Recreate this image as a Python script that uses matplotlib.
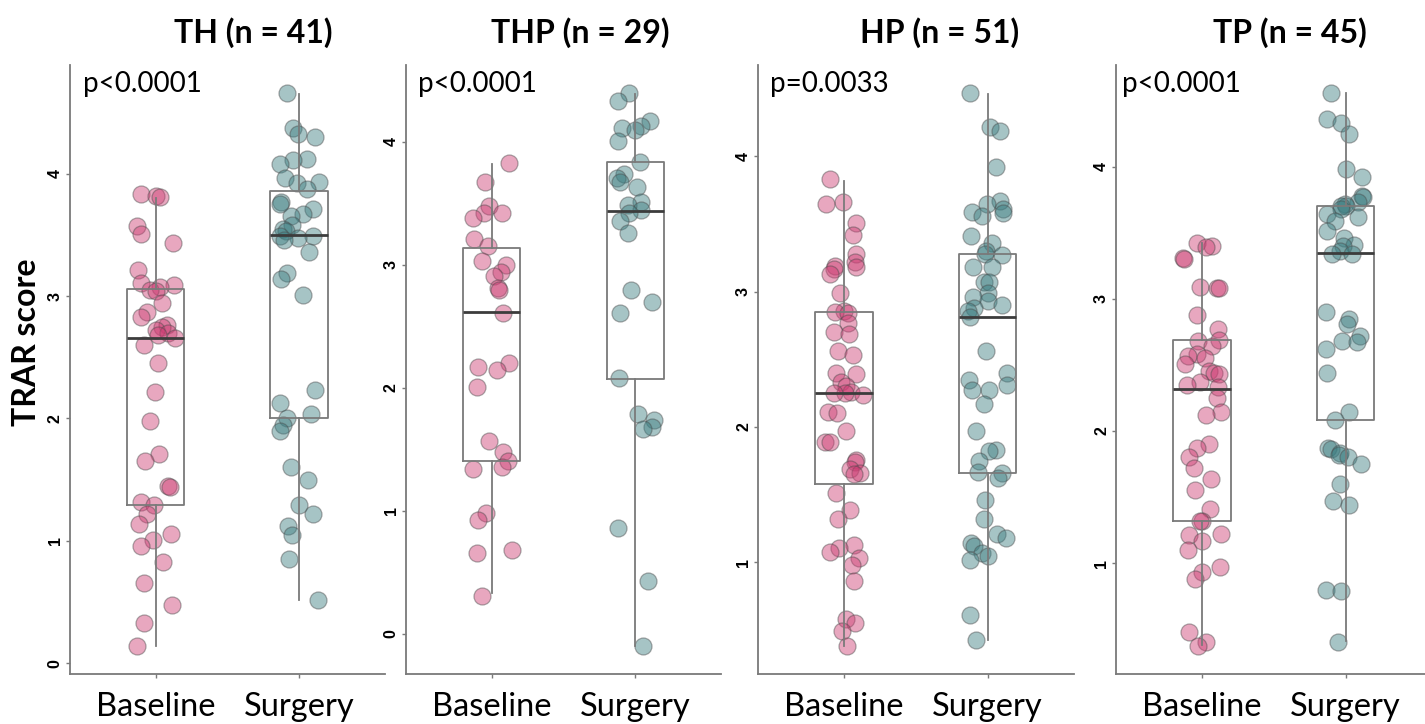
import numpy as np
import matplotlib.pyplot as plt

plt.rcParams['font.family'] = ['Lato', 'DejaVu Sans']

# ---------------------------------------------------------------------------
# Data
# ---------------------------------------------------------------------------
GROUPS = ['Baseline', 'Surgery']
TITLES = ['TH (n = 41)', 'THP (n = 29)', 'HP (n = 51)', 'TP (n = 45)']
P_TEXT = ['p<0.0001', 'p<0.0001', 'p=0.0033', 'p<0.0001']

th_base = [3.83, 3.82, 3.81, 3.57, 3.51, 3.43, 3.21, 3.11, 3.09, 3.07, 3.05,
           3.04, 2.94, 2.87, 2.83, 2.76, 2.75, 2.72, 2.70, 2.68, 2.66, 2.60,
           2.45, 2.22, 1.98, 1.71, 1.65, 1.45, 1.44, 1.32, 1.29, 1.22, 1.14,
           1.06, 1.01, 0.96, 0.83, 0.66, 0.48, 0.33, 0.14]
th_surg = [4.66, 4.37, 4.32, 4.30, 4.12, 4.11, 4.08, 3.96, 3.93, 3.92, 3.87,
           3.77, 3.75, 3.71, 3.67, 3.65, 3.58, 3.55, 3.53, 3.49, 3.49, 3.47,
           3.46, 3.36, 3.19, 3.14, 3.01, 2.23, 2.13, 2.04, 2.00, 1.95, 1.90,
           1.60, 1.50, 1.29, 1.22, 1.12, 1.05, 0.85, 0.52]

thp_base = [3.83, 3.67, 3.48, 3.42, 3.42, 3.38, 3.21, 3.15, 3.03, 3.00, 2.94,
            2.91, 2.81, 2.80, 2.61, 2.20, 2.17, 2.15, 2.01, 1.57, 1.48, 1.41,
            1.36, 1.34, 0.98, 0.93, 0.68, 0.66, 0.31]
thp_surg = [4.40, 4.33, 4.17, 4.13, 4.11, 4.10, 4.01, 3.84, 3.74, 3.71, 3.67,
            3.63, 3.51, 3.49, 3.45, 3.42, 3.36, 3.26, 2.80, 2.70, 2.61, 2.08,
            1.79, 1.74, 1.68, 1.67, 0.86, 0.43, -0.10]

hp_base = [3.83, 3.66, 3.65, 3.51, 3.42, 3.28, 3.22, 3.19, 3.18, 3.17, 3.13,
           2.99, 2.86, 2.85, 2.84, 2.77, 2.70, 2.69, 2.56, 2.53, 2.40, 2.39,
           2.33, 2.30, 2.26, 2.25, 2.25, 2.24, 2.11, 2.10, 1.97, 1.89, 1.89,
           1.76, 1.74, 1.69, 1.66, 1.65, 1.51, 1.39, 1.32, 1.13, 1.11, 1.08,
           1.03, 0.98, 0.86, 0.58, 0.55, 0.49, 0.38]
hp_surg = [4.47, 4.22, 4.19, 3.92, 3.67, 3.65, 3.61, 3.59, 3.58, 3.56, 3.41,
           3.36, 3.30, 3.28, 3.27, 3.18, 3.18, 3.07, 3.07, 2.99, 2.96, 2.93,
           2.90, 2.88, 2.86, 2.81, 2.56, 2.40, 2.35, 2.31, 2.27, 2.27, 2.17,
           1.97, 1.83, 1.82, 1.75, 1.67, 1.66, 1.62, 1.46, 1.32, 1.21, 1.18,
           1.14, 1.12, 1.07, 1.05, 1.02, 0.61, 0.43]

tp_base = [3.42, 3.40, 3.39, 3.31, 3.30, 3.09, 3.08, 3.08, 2.88, 2.77, 2.69,
           2.68, 2.64, 2.58, 2.57, 2.55, 2.51, 2.45, 2.44, 2.43, 2.37, 2.35,
           2.33, 2.25, 2.14, 2.12, 1.90, 1.87, 1.80, 1.72, 1.64, 1.55, 1.41,
           1.32, 1.32, 1.22, 1.21, 1.17, 1.10, 0.97, 0.93, 0.88, 0.48, 0.40,
           0.37]
tp_surg = [4.56, 4.36, 4.33, 4.25, 3.98, 3.92, 3.78, 3.77, 3.73, 3.72, 3.70,
           3.70, 3.68, 3.64, 3.62, 3.59, 3.51, 3.46, 3.41, 3.40, 3.36, 3.34,
           3.34, 2.90, 2.85, 2.81, 2.72, 2.68, 2.67, 2.62, 2.44, 2.14, 2.08,
           1.87, 1.86, 1.83, 1.82, 1.80, 1.75, 1.60, 1.47, 1.44, 0.80, 0.79,
           0.40]

# box stats: q1, median, q3, whisker low, whisker high
th_box = [[1.29, 2.66, 3.06, 0.14, 3.80], [2.00, 3.50, 3.86, 0.52, 4.65]]
thp_box = [[1.41, 2.62, 3.14, 0.33, 3.82], [2.07, 3.44, 3.84, -0.10, 4.39]]
hp_box = [[1.58, 2.25, 2.85, 0.38, 3.82], [1.66, 2.81, 3.28, 0.43, 4.46]]
tp_box = [[1.32, 2.32, 2.69, 0.38, 3.42], [2.08, 3.35, 3.70, 0.41, 4.56]]

PANELS = [
    (th_base, th_surg, th_box),
    (thp_base, thp_surg, thp_box),
    (hp_base, hp_surg, hp_box),
    (tp_base, tp_surg, tp_box),
]

# ---------------------------------------------------------------------------
# Style / layout
# ---------------------------------------------------------------------------
COLOURS = ['#cc3d73', '#3b7c80']
GREY = '#7a7a7a'
W, H = 1425, 724
LEFTS = [69.5, 405.7, 758.0, 1116.0]       # px
AX_W = 315.6
AX_B, AX_T = 674, 65
TITLE_X = [253, 580, 940, 1290]
PTEXT_DX = [0.094, 0.086, 0.084, 0.040]    # data-unit offset from x=0.4

fig = plt.figure(figsize=(W / 100, H / 100), dpi=100)
rng = np.random.default_rng(11)

for i, (base, surg, box) in enumerate(PANELS):
    ax = fig.add_axes([LEFTS[i] / W, (H - AX_B) / H, AX_W / W, (AX_B - AX_T) / H])

    # jittered points
    for j, vals in enumerate([base, surg]):
        vals = np.asarray(vals)
        x = j + 1 + rng.uniform(-0.14, 0.14, len(vals))
        ax.scatter(x, vals, s=150, color=COLOURS[j], alpha=0.45,
                   edgecolor='#4a4a4a', linewidth=0.9, zorder=2)

    # boxes on top, no fill
    stats = [dict(q1=b[0], med=b[1], q3=b[2], whislo=b[3], whishi=b[4],
                  fliers=[], label=g) for b, g in zip(box, GROUPS)]
    ax.bxp(stats, positions=[1, 2], widths=0.4, showcaps=False,
           showfliers=False,
           boxprops=dict(color=GREY, linewidth=1.3),
           whiskerprops=dict(color=GREY, linewidth=1.3),
           medianprops=dict(color='#3c3c3c', linewidth=2.0),
           zorder=3)

    allv = np.concatenate([base, surg])
    lo, hi = allv.min(), allv.max()
    pad = 0.05 * (hi - lo)
    ax.set_ylim(lo - pad, hi + pad)
    ax.set_xlim(0.4, 2.6)
    ax.set_yticks(np.arange(np.ceil(lo - pad), np.floor(hi + pad) + 1))
    ax.set_yticklabels([f'{int(t)}' for t in ax.get_yticks()],
                       rotation=90, va='center', fontsize=11.5,
                       fontweight='bold', family='Liberation Sans')
    ax.set_xticks([1, 2])
    ax.set_xticklabels(GROUPS, fontsize=23.5)

    for s in ['top', 'right']:
        ax.spines[s].set_visible(False)
    for s in ['left', 'bottom']:
        ax.spines[s].set_color(GREY)
        ax.spines[s].set_linewidth(1.3)
    ax.tick_params(axis='both', color=GREY, length=3, width=1)
    ax.tick_params(axis='y', pad=2)
    ax.tick_params(axis='x', pad=10)

    ax.text(0.4 + PTEXT_DX[i], 0.956, P_TEXT[i], fontsize=20, va='baseline',
            transform=ax.get_xaxis_transform())

    fig.text(TITLE_X[i] / W, 1 - 33 / H, TITLES[i], fontsize=23,
             fontweight='bold', ha='center', va='center')

fig.text(27 / W, 1 - 342 / H, 'TRAR score', fontsize=23, fontweight='bold',
         rotation=90, ha='center', va='center')

fig.savefig('out.png', dpi=100)
